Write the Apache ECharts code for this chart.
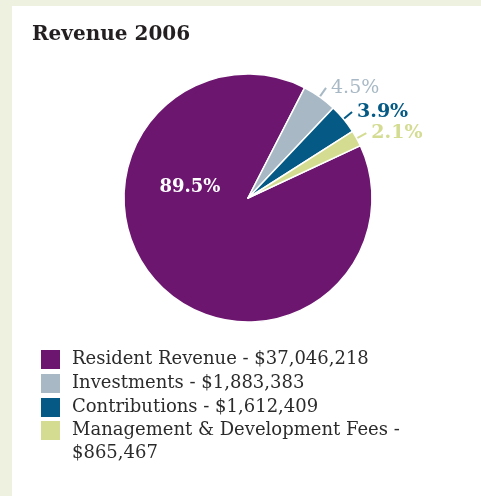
<!DOCTYPE html>
<html>
<head>
<meta charset="utf-8">
<script src="https://cdn.jsdelivr.net/npm/echarts@6/dist/echarts.min.js"></script>
<style>
html,body{margin:0;padding:0;background:#eef0e0;}
#chart{width:481px;height:496px;}
</style>
</head>
<body>
<div id="chart"></div>
<script>
var titleText = 'Revenue 2006';
var categories = ['Resident Revenue', 'Investments', 'Contributions', 'Management & Development Fees'];
var amounts = ['$37,046,218', '$1,883,383', '$1,612,409', '$865,467'];
var percents = [89.5, 4.5, 3.9, 2.1];
var colors = ['#6d1670', '#a8b9c5', '#045a84', '#d4dc92'];

var serif = '"DejaVu Serif", serif';
var chart = echarts.init(document.getElementById('chart'), null, {renderer: 'canvas'});

var cx = 248, cy = 198;

var data = categories.map(function (c, i) {
  var item = {
    name: c,
    value: percents[i],
    itemStyle: {color: colors[i]}
  };
  if (i === 0) {
    item.label = {position: 'inside', color: '#ffffff', fontSize: 18, fontWeight: 'bold', fontFamily: serif};
    item.labelLine = {show: false};
  } else {
    item.label = {position: 'outside', color: colors[i], fontSize: 19, fontWeight: i === 1 ? 'normal' : 'bold', fontFamily: serif};
    item.labelLine = {show: true, length: 11, length2: 0, lineStyle: {color: colors[i], width: 2}};
  }
  return item;
});

var amountOf = {};
categories.forEach(function (c, i) { amountOf[c] = amounts[i]; });

var option = {
  backgroundColor: '#eef0e0',
  animation: false,
  graphic: [{
    type: 'rect', z: -10, silent: true,
    shape: {x: 12, y: 6, width: 481 - 12, height: 496 - 6},
    style: {fill: '#ffffff'}
  }],
  title: {
    text: titleText,
    left: 32, top: 25,
    padding: 0,
    textStyle: {fontFamily: serif, fontWeight: 'bold', fontSize: 20, color: '#231f20'}
  },
  legend: [{
    data: categories.slice(0, 3),
    orient: 'vertical',
    left: 39, top: 348,
    padding: 0,
    itemWidth: 21, itemHeight: 21, itemGap: 1,
    icon: 'rect',
    selectedMode: false,
    formatter: function (n) { return n + ' - ' + amountOf[n]; },
    textStyle: {fontFamily: serif, fontSize: 18, color: '#2b2b2b', lineHeight: 21, padding: [0, 0, 0, 6]}
  }, {
    data: categories.slice(3),
    orient: 'vertical',
    left: 39, top: 396,
    padding: 0,
    itemWidth: 21, itemHeight: 21,
    icon: 'rect',
    selectedMode: false,
    formatter: function (n) { return '\n' + n + ' -\n' + amountOf[n]; },
    textStyle: {fontFamily: serif, fontSize: 18, color: '#2b2b2b', lineHeight: 23, padding: [0, 0, 0, 6]}
  }],
  series: [{
    type: 'pie',
    center: [cx, cy],
    radius: [0, 124],
    startAngle: 25,
    clockwise: true,
    avoidLabelOverlap: false,
    itemStyle: {borderColor: '#ffffff', borderWidth: 1.5},
    label: {
      show: true,
      formatter: function (p) { return p.value.toFixed(1) + '%'; }
    },
    labelLayout: function (p) {
      if (p.dataIndex === 0) {
        return {x: cx - 58, y: cy - 11};
      }
      return {};
    },
    emphasis: {disabled: true},
    data: data
  }]
};
chart.setOption(option);
</script>
</body>
</html>
